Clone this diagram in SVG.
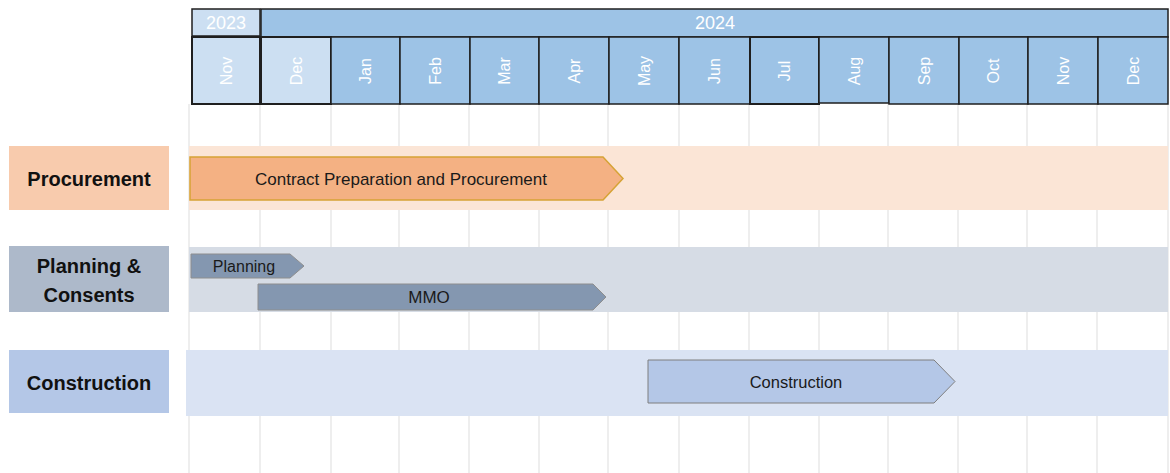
<svg xmlns="http://www.w3.org/2000/svg" width="1170" height="473" viewBox="0 0 1170 473">
<style>
.grid{stroke:#E9E9E9;stroke-width:1.5}
.hdr{stroke:#1F1F1F;stroke-width:1.5}
.y23{fill:#CCDFF2}
.y24{fill:#9DC3E6}
.ht{font-family:"Liberation Sans",Arial,sans-serif;fill:#FFFFFF;text-anchor:middle}
.mt{font-size:16px}
.yt{font-size:18px}
.lbl{font-family:"Liberation Sans",Arial,sans-serif;font-weight:bold;font-size:20px;fill:#111111;text-anchor:middle}
.bt{font-family:"Liberation Sans",Arial,sans-serif;font-size:16.5px;fill:#1A1A1A;text-anchor:middle}
</style>
<rect width="1170" height="473" fill="#FFFFFF"/>
<g id="grid">
<line class="grid" x1="189" y1="104" x2="189" y2="473"/>
<line class="grid" x1="260" y1="104" x2="260" y2="473"/>
<line class="grid" x1="331" y1="104" x2="331" y2="473"/>
<line class="grid" x1="399" y1="104" x2="399" y2="473"/>
<line class="grid" x1="469" y1="104" x2="469" y2="473"/>
<line class="grid" x1="539" y1="104" x2="539" y2="473"/>
<line class="grid" x1="608" y1="104" x2="608" y2="473"/>
<line class="grid" x1="679" y1="104" x2="679" y2="473"/>
<line class="grid" x1="749" y1="104" x2="749" y2="473"/>
<line class="grid" x1="819" y1="104" x2="819" y2="473"/>
<line class="grid" x1="888" y1="104" x2="888" y2="473"/>
<line class="grid" x1="958" y1="104" x2="958" y2="473"/>
<line class="grid" x1="1027" y1="104" x2="1027" y2="473"/>
<line class="grid" x1="1097" y1="104" x2="1097" y2="473"/>
<line class="grid" x1="1168" y1="104" x2="1168" y2="473"/>
</g>
<g id="header">
<rect class="y23 hdr" x="192" y="9" width="68" height="27"/>
<rect class="y24 hdr" x="261" y="9" width="907" height="28"/>
<text class="ht yt" x="226" y="29">2023</text>
<text class="ht yt" x="715" y="29">2024</text>
<rect class="y23 hdr" x="192" y="37" width="68" height="67" style="stroke-width:2"/>
<rect class="y23 hdr" x="261" y="37" width="70" height="67" style="stroke-width:2"/>
<rect class="y24 hdr" x="331" y="37" width="69" height="67"/>
<rect class="y24 hdr" x="400" y="37" width="70" height="67"/>
<rect class="y24 hdr" x="470" y="37" width="69" height="67"/>
<rect class="y24 hdr" x="539" y="37" width="70" height="67"/>
<rect class="y24 hdr" x="609" y="37" width="70" height="67"/>
<rect class="y24 hdr" x="679" y="37" width="71" height="67"/>
<rect class="y24 hdr" x="750" y="37" width="69" height="67" style="stroke-width:2"/>
<rect class="y24 hdr" x="819" y="37" width="70" height="66"/>
<rect class="y24 hdr" x="889" y="37" width="70" height="67"/>
<rect class="y24 hdr" x="959" y="37" width="69" height="67"/>
<rect class="y24 hdr" x="1028" y="37" width="70" height="67"/>
<rect class="y24 hdr" x="1098" y="37" width="70" height="67"/>
<text class="ht mt" transform="translate(232,71) rotate(-90)">Nov</text>
<text class="ht mt" transform="translate(302,71) rotate(-90)">Dec</text>
<text class="ht mt" transform="translate(371,71) rotate(-90)">Jan</text>
<text class="ht mt" transform="translate(441,71) rotate(-90)">Feb</text>
<text class="ht mt" transform="translate(510,71) rotate(-90)">Mar</text>
<text class="ht mt" transform="translate(580,71) rotate(-90)">Apr</text>
<text class="ht mt" transform="translate(650,71) rotate(-90)">May</text>
<text class="ht mt" transform="translate(720,71) rotate(-90)">Jun</text>
<text class="ht mt" transform="translate(790,71) rotate(-90)">Jul</text>
<text class="ht mt" transform="translate(860,71) rotate(-90)">Aug</text>
<text class="ht mt" transform="translate(930,71) rotate(-90)">Sep</text>
<text class="ht mt" transform="translate(999,71) rotate(-90)">Oct</text>
<text class="ht mt" transform="translate(1069,71) rotate(-90)">Nov</text>
<text class="ht mt" transform="translate(1139,71) rotate(-90)">Dec</text>
</g>
<g id="procurement">
<rect x="9" y="146" width="160" height="64" fill="#F8CBAD"/>
<text class="lbl" x="89" y="186">Procurement</text>
<rect x="189" y="146" width="979" height="64" fill="#FBE5D6"/>
</g>
<g id="planning-consents">
<rect x="9" y="246" width="160" height="66" fill="#ADB9CA"/>
<text class="lbl" x="89" y="273">Planning &amp;</text>
<text class="lbl" x="89" y="302">Consents</text>
<rect x="189" y="247" width="979" height="65" fill="#D6DCE5"/>
</g>
<g id="construction">
<rect x="9" y="350" width="160" height="63" fill="#B4C7E7"/>
<text class="lbl" x="89" y="390">Construction</text>
<rect x="186" y="350" width="982" height="66" fill="#DAE3F3"/>
</g>
<g id="task-contract">
<polygon points="190,157 603,157 623,178.5 603,200 190,200" fill="#F4B183" stroke="#D6A336" stroke-width="1.5"/>
<text class="bt" x="401" y="185" style="font-size:17px">Contract Preparation and Procurement</text>
</g>
<g id="task-planning">
<polygon points="191,254 290,254 304,266 290,278 191,278" fill="#8497B0" stroke="#8E8E8E" stroke-width="1"/>
<text class="bt" x="244" y="272" style="font-size:16px">Planning</text>
</g>
<g id="task-mmo">
<polygon points="258,284 593,284 606,297 593,310 258,310" fill="#8497B0" stroke="#8E8E8E" stroke-width="1"/>
<text class="bt" x="429" y="303" style="font-size:17px">MMO</text>
</g>
<g id="task-construction">
<polygon points="648,360 934,360 955,381.5 934,403 648,403" fill="#B4C7E7" stroke="#7F7F7F" stroke-width="1"/>
<text class="bt" x="796" y="388">Construction</text>
</g>
<g id="connectors"/>
</svg>
